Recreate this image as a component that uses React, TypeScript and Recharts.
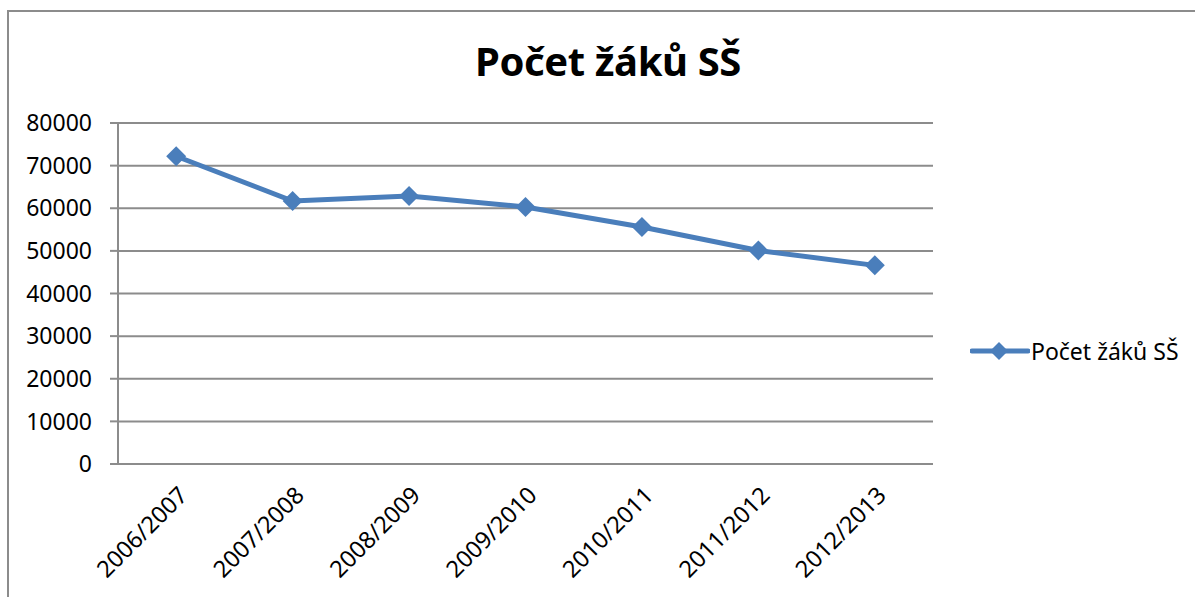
import React from "react";
import {
  CartesianGrid,
  Legend,
  Line,
  LineChart,
  XAxis,
  YAxis,
} from "recharts";

// school years on the x axis
const years = [
  "2006/2007",
  "2007/2008",
  "2008/2009",
  "2009/2010",
  "2010/2011",
  "2011/2012",
  "2012/2013",
];

// number of secondary school pupils
const pupils = [72200, 61700, 62900, 60300, 55600, 50100, 46600];

const yTicks = [0, 10000, 20000, 30000, 40000, 50000, 60000, 70000, 80000];

const seriesName = "Počet žáků SŠ";

const FONT = "'Noto Sans', 'Open Sans', sans-serif";
const GRAY = "#8c8c8c";
const BLUE = "#4a7ebb";

// categories sit in the middle of each slot, tick marks between them
const data = years.map((year, i) => ({ pos: i + 0.5, year, value: pupils[i] }));
const boundaryTicks = years.map((_, i) => i).concat(years.length);
const centerTicks = years.map((_, i) => i + 0.5);

const Diamond = (props: any) => {
  const { cx, cy } = props;
  if (cx == null || cy == null) return null;
  const r = 10;
  return (
    <polygon
      points={`${cx},${cy - r} ${cx + r},${cy} ${cx},${cy + r} ${cx - r},${cy}`}
      fill={BLUE}
    />
  );
};

const YearTick = (props: any) => {
  const { x, y, payload } = props;
  const label = years[Math.floor(payload.value)];
  return (
    <text
      x={x + 7}
      y={y + 19}
      dy="0.35em"
      textAnchor="end"
      transform={`rotate(-45, ${x + 7}, ${y + 19})`}
      fontSize={23.5}
      fontFamily={FONT}
      fill="#000"
    >
      {label}
    </text>
  );
};

const LegendContent = () => (
  <div style={{ display: "flex", alignItems: "center" }}>
    <svg width={60} height={24}>
      <line x1={2} y1={12} x2={58} y2={12} stroke={BLUE} strokeWidth={5} strokeLinecap="round" />
      <polygon points="29,3 38,12 29,21 20,12" fill={BLUE} />
    </svg>
    <span style={{ fontFamily: FONT, fontSize: 23, color: "#000", marginLeft: 1 }}>
      {seriesName}
    </span>
  </div>
);

export default function App() {
  return (
    <div
      style={{
        position: "fixed",
        left: 0,
        top: 0,
        width: 1195,
        height: 597,
        overflow: "hidden",
        background: "#fff",
      }}
    >
      <div
        style={{
          position: "absolute",
          left: 7,
          top: 10,
          width: 1300,
          height: 700,
          border: `2px solid ${GRAY}`,
          boxSizing: "border-box",
        }}
      />
      <div
        style={{
          position: "absolute",
          left: 408,
          width: 400,
          top: 33,
          textAlign: "center",
          fontFamily: FONT,
          fontWeight: 700,
          fontSize: 40,
          color: "#000",
          whiteSpace: "nowrap",
          letterSpacing: -0.4,
        }}
      >
        {seriesName}
      </div>
      <div style={{ position: "absolute", left: 0, top: 0 }}>
        <LineChart
          width={1195}
          height={597}
          data={data}
          margin={{ top: 123, right: 262, bottom: 13, left: 0 }}
        >
          <CartesianGrid vertical={false} stroke={GRAY} strokeWidth={2} />
          <XAxis
            xAxisId="grid"
            type="number"
            dataKey="pos"
            domain={[0, years.length]}
            ticks={boundaryTicks}
            tick={false}
            height={0}
            tickSize={8}
            axisLine={{ stroke: GRAY, strokeWidth: 2 }}
            tickLine={{ stroke: GRAY, strokeWidth: 2 }}
          />
          <XAxis
            xAxisId="labels"
            type="number"
            dataKey="pos"
            domain={[0, years.length]}
            ticks={centerTicks}
            tick={<YearTick />}
            height={120}
            axisLine={false}
            tickLine={false}
          />
          <YAxis
            domain={[0, 80000]}
            ticks={yTicks}
            width={118}
            tickSize={8}
            tickMargin={18}
            axisLine={{ stroke: GRAY, strokeWidth: 2 }}
            tickLine={{ stroke: GRAY, strokeWidth: 2 }}
            tick={{ fill: "#000", fontSize: 23, fontFamily: FONT }}
          />
          <Legend
            layout="vertical"
            align="center"
            verticalAlign="middle"
            content={<LegendContent />}
            wrapperStyle={{ left: 970, top: 335, width: "auto" }}
          />
          <Line
            xAxisId="grid"
            type="linear"
            dataKey="value"
            name={seriesName}
            stroke={BLUE}
            strokeWidth={5}
            dot={<Diamond />}
            activeDot={false}
            isAnimationActive={false}
          />
        </LineChart>
      </div>
    </div>
  );
}
